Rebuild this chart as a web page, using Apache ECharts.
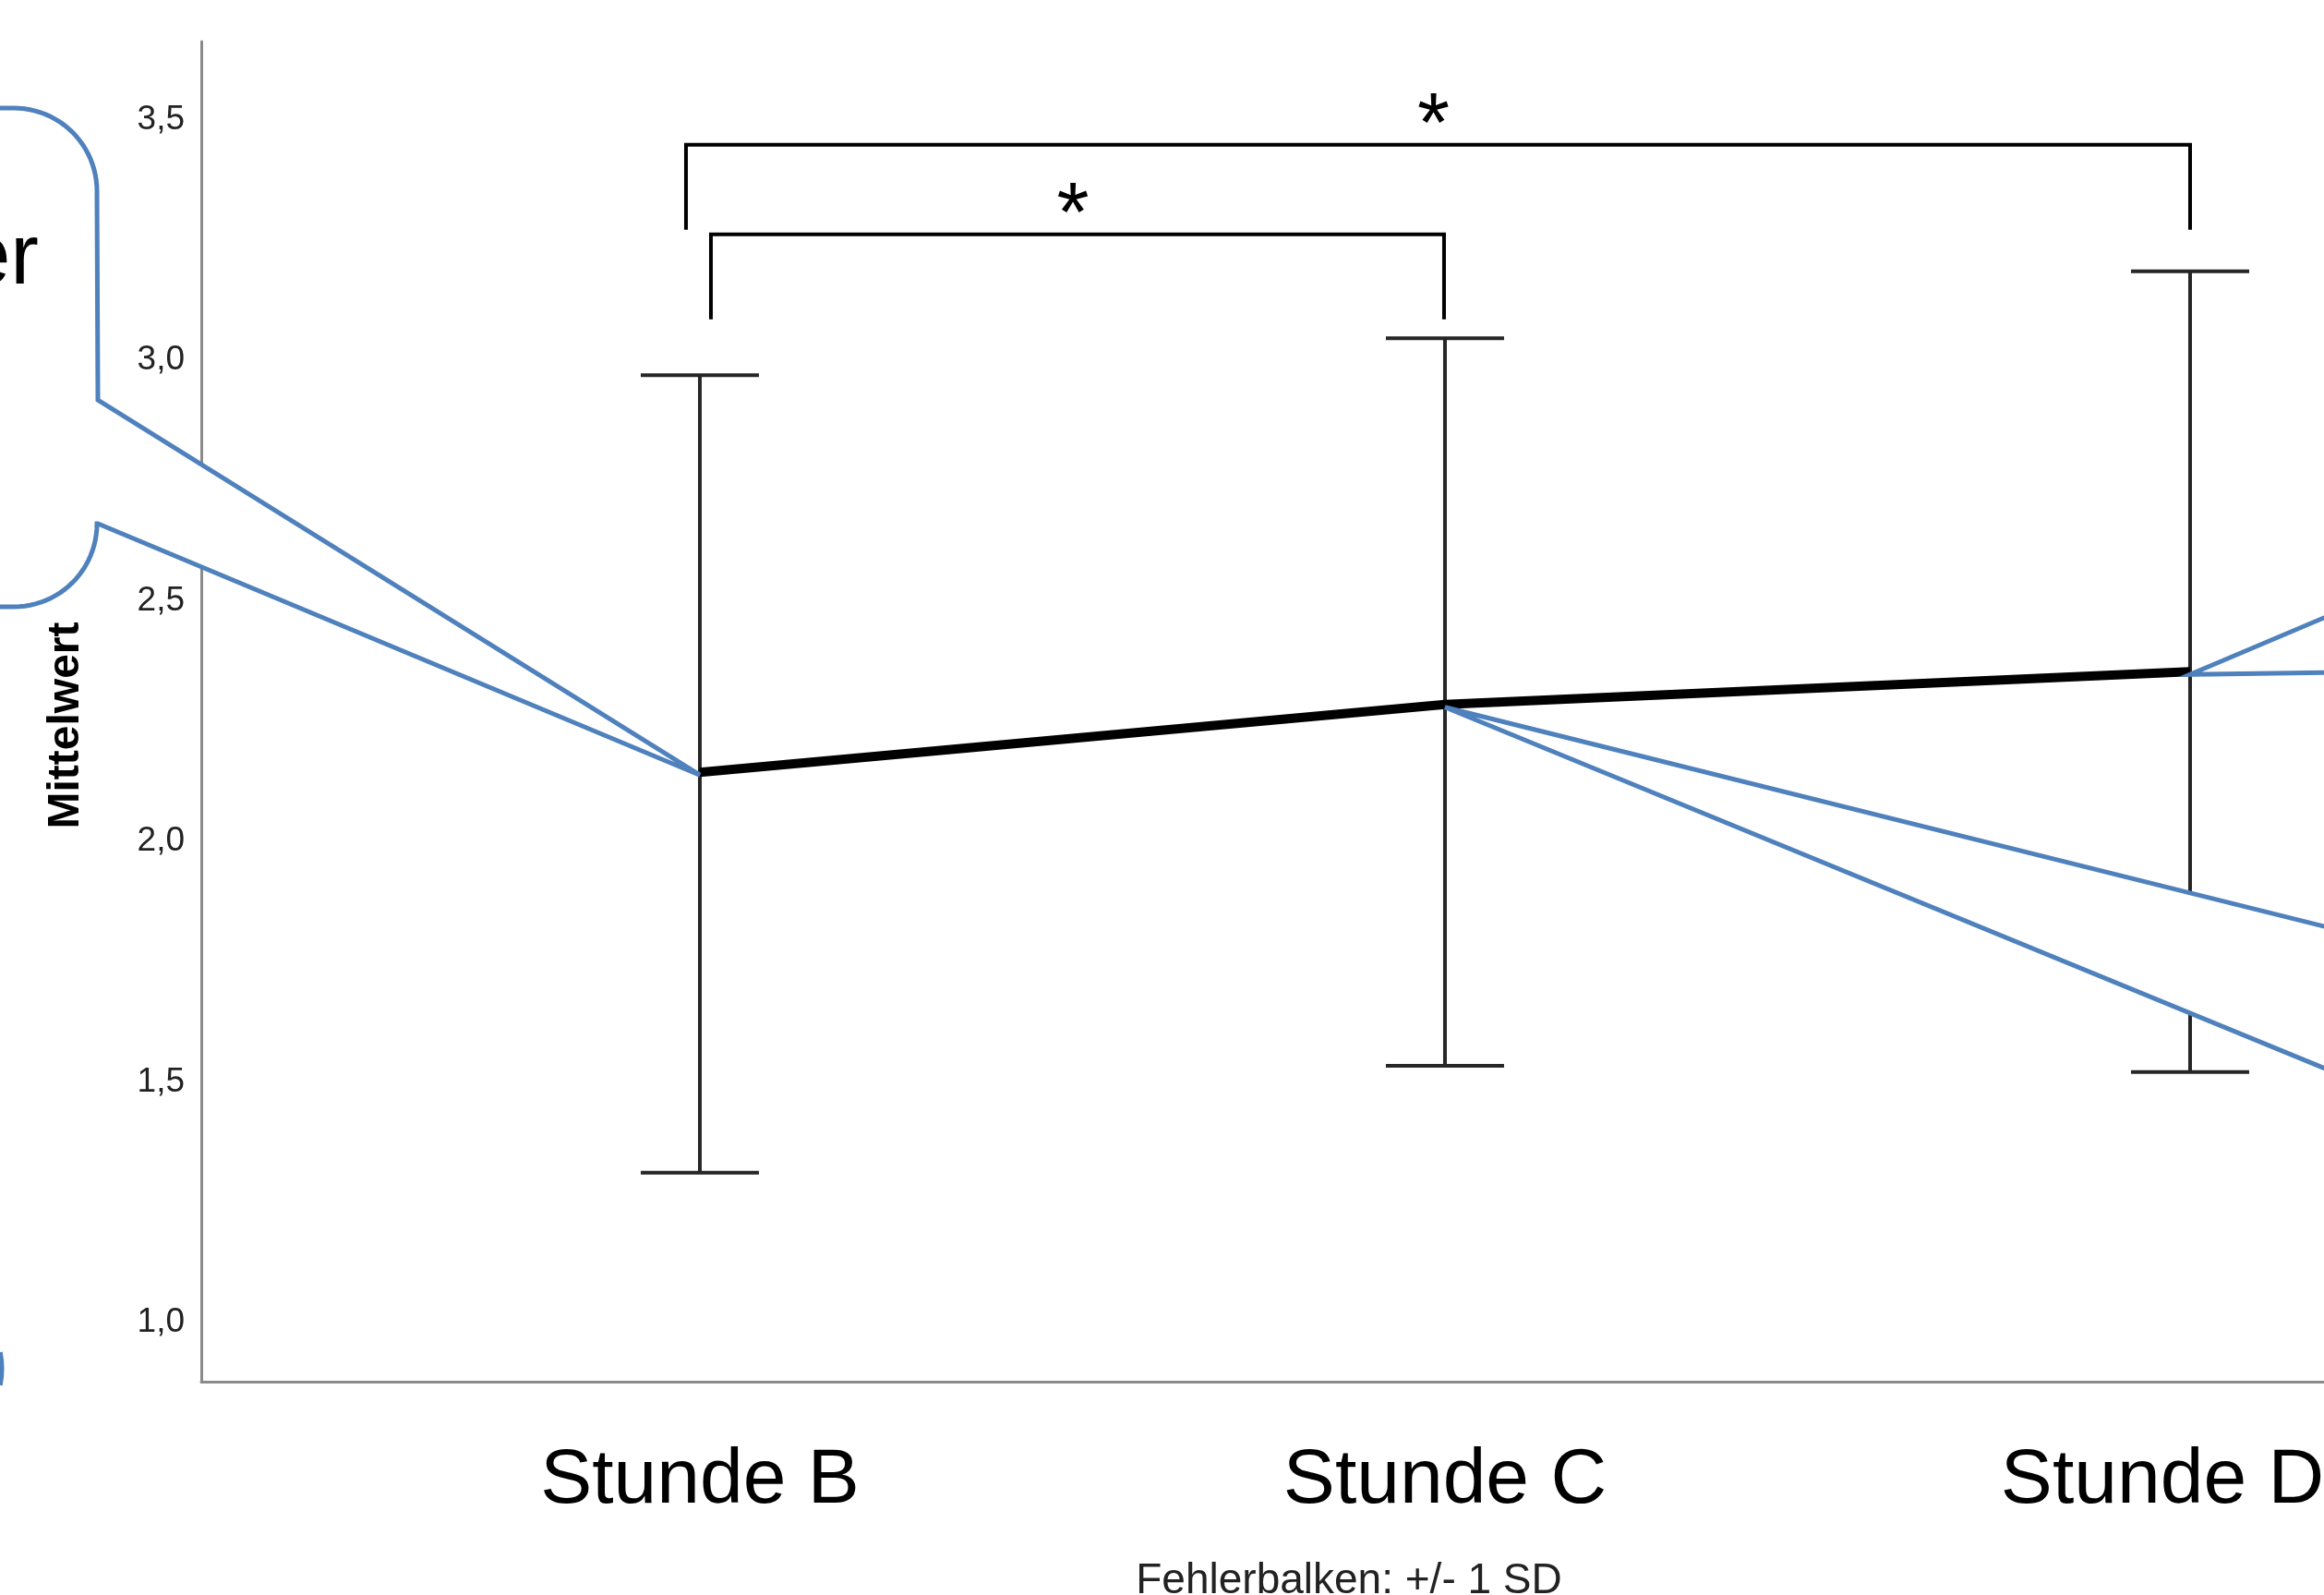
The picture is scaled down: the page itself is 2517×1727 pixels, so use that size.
<!DOCTYPE html>
<html><head><meta charset="utf-8">
<script src="https://cdn.jsdelivr.net/npm/echarts@6/dist/echarts.min.js"></script>
<style>html,body{margin:0;padding:0;background:#fff}#c{width:2517px;height:1727px}</style>
</head><body><div id="c"></div>
<script>
// ---- data ----
const categories = ['Stunde B', 'Stunde C', 'Stunde D'];
const means = [2.134, 2.275, 2.343];
const lowerSD = [1.302, 1.524, 1.511];
const upperSD = [2.959, 3.036, 3.175];
const yTicks = [1.0, 1.5, 2.0, 2.5, 3.0, 3.5];
// significance comparisons: [fromIndex, toIndex, bracketTopValue, label]
const comparisons = [[0, 2, 3.438, '*'], [0, 1, 3.252, '*']];
const footnote = 'Fehlerbalken: +/- 1 SD';
const yName = 'Mittelwert';
const calloutText = 'er';

// ---- styling ----
const FONT = "Liberation Sans, Arial, sans-serif";
const BLUE = '#4f81bd';
const legOffsetsPx = [[-15, 0], [12, -1]]; // per comparison: left/right leg pixel offset
const legLen = 92;

const chart = echarts.init(document.getElementById('c'), null, {renderer: 'canvas'});

const xPos = categories.map((c, i) => i + 1);
const lineData = xPos.map((x, i) => [x, means[i]]);
const errData = xPos.map((x, i) => [x, lowerSD[i], upperSD[i]]);
const brData = comparisons.map((c, k) => [c[0] + 1, c[1] + 1, c[2], k]);

chart.setOption({
  animation: false,
  backgroundColor: '#fff',
  grid: {left: 218, right: 0, top: 45, bottom: 231, containLabel: false, outerBoundsMode: 'none'},
  xAxis: {
    type: 'value', min: 0.3309, max: 3.1797,
    axisLine: {show: true, lineStyle: {color: '#8a8a8a', width: 3}},
    axisTick: {show: false},
    splitLine: {show: false},
    axisLabel: {
      customValues: xPos,
      formatter: v => {
        const i = Math.round(v) - 1;
        return i === categories.length - 1 ? '{last|' + categories[i] + '}' : (categories[i] || '');
      },
      rich: {last: {fontFamily: FONT, fontSize: 84, color: '#000', padding: [0, 60, 0, 0]}},
      fontFamily: FONT, fontSize: 84, color: '#000', margin: 66
    }
  },
  yAxis: {
    type: 'value', min: 0.8676, max: 3.6526,
    name: yName, nameLocation: 'middle', nameRotate: 90, nameGap: 122,
    nameTextStyle: {fontFamily: FONT, fontSize: 48, fontWeight: 'bold', color: '#000', padding: [0, 30, 0, 0]},
    axisLine: {show: true, lineStyle: {color: '#8a8a8a', width: 3}},
    axisTick: {show: false},
    splitLine: {show: false},
    axisLabel: {
      customValues: yTicks,
      formatter: v => v.toFixed(1).replace('.', ','),
      fontFamily: FONT, fontSize: 37, color: '#222', margin: 18,
      verticalAlign: 'top', lineHeight: 10
    }
  },
  series: [
    {
      type: 'custom', name: 'SD', z: 2,
      data: errData,
      renderItem: (params, api) => {
        const x = api.value(0);
        const lo = api.coord([x, api.value(1)]);
        const hi = api.coord([x, api.value(2)]);
        const hw = 64;
        const st = {stroke: '#262626', lineWidth: 4};
        return {type: 'group', children: [
          {type: 'line', shape: {x1: lo[0], y1: lo[1], x2: hi[0], y2: hi[1]}, style: st},
          {type: 'line', shape: {x1: lo[0] - hw, y1: lo[1], x2: lo[0] + hw, y2: lo[1]}, style: st},
          {type: 'line', shape: {x1: hi[0] - hw, y1: hi[1], x2: hi[0] + hw, y2: hi[1]}, style: st}
        ]};
      }
    },
    {
      type: 'line', name: 'Mittelwert', z: 3,
      data: lineData, symbol: 'none',
      lineStyle: {color: '#000', width: 10}
    },
    {
      type: 'custom', name: 'Signifikanz', z: 4,
      data: brData,
      renderItem: (params, api) => {
        const k = api.value(3);
        const a = api.coord([api.value(0), api.value(2)]);
        const b = api.coord([api.value(1), api.value(2)]);
        const xl = a[0] + legOffsetsPx[k][0];
        const xr = b[0] + legOffsetsPx[k][1];
        const y = a[1];
        return {type: 'group', children: [
          {type: 'polyline', shape: {points: [[xl, y + legLen], [xl, y], [xr, y], [xr, y + legLen]]},
           style: {stroke: '#000', lineWidth: 4, fill: null}},
          {type: 'text', x: (xl + xr) / 2 - 5, y: y - 18,
           style: {text: comparisons[k][3], fontFamily: FONT, fontSize: 90, fill: '#000',
                   align: 'center', verticalAlign: 'middle'}}
        ]};
      }
    }
  ]
});

// ---- callout overlays (decorative, tips anchored to data points) ----
const tip = i => {
  const p = chart.convertToPixel({gridIndex: 0}, [xPos[i], means[i]]);
  return [p[0], p[1] + 3];
};
function arcPts(cx, cy, r, a0, a1, n) {
  const pts = [];
  for (let k = 0; k <= n; k++) {
    const a = a0 + (a1 - a0) * k / n;
    pts.push([cx + r * Math.cos(a), cy + r * Math.sin(a)]);
  }
  return pts;
}
const tB = tip(0), tC = tip(1), tD = tip(2);
const leftPts = [[-300, 117]]
  .concat(arcPts(15, 207, 90, -Math.PI / 2, 0, 24))
  .concat([[106, 433], [tB[0], tB[1]], [106, 567]])
  .concat(arcPts(15, 567, 90, 0, Math.PI / 2, 24))
  .concat([[-300, 657]]);
const co = {stroke: BLUE, lineWidth: 5, fill: '#fff', lineJoin: 'miter'};
chart.setOption({
  graphic: [
    {type: 'polygon', z: 100, shape: {points: leftPts}, style: co},
    {type: 'text', z: 101, x: 42, y: 282,
     style: {text: calloutText, fontFamily: FONT, fontSize: 92, fill: '#000', align: 'right', verticalAlign: 'middle'}},
    {type: 'polygon', z: 100,
     shape: {points: [[tC[0], tC[1]], [2545, 1010], [2545, 1168]]}, style: co},
    {type: 'polygon', z: 100,
     shape: {points: [[tD[0], tD[1]], [2545, 657], [2545, 728]]}, style: co},
    {type: 'arc', z: 100,
     shape: {cx: -88, cy: 1482, r: 90, startAngle: -0.2, endAngle: 0.2},
     style: {stroke: BLUE, lineWidth: 5, fill: null}},
    {type: 'text', z: 101, x: 1461, y: 1712,
     style: {text: footnote, fontFamily: FONT, fontSize: 46, fill: '#222', align: 'center', verticalAlign: 'middle'}}
  ]
});
</script>
</body></html>
